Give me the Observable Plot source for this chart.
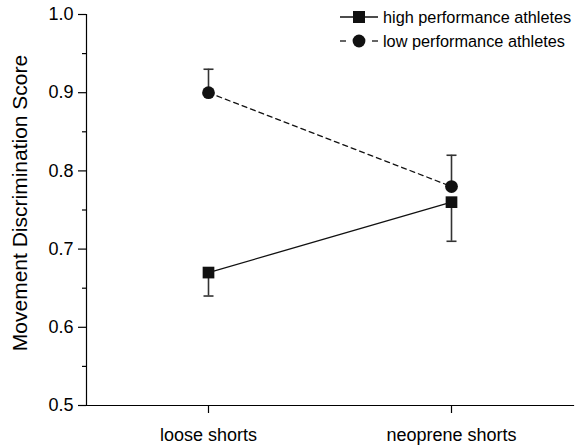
<!DOCTYPE html>
<html>
<head>
<meta charset="utf-8">
<script src="https://cdn.jsdelivr.net/npm/d3@7"></script>
<script src="https://cdn.jsdelivr.net/npm/@observablehq/plot@0.6"></script>
<style>
  html, body { margin: 0; padding: 0; background: #fff; }
  #chart { position: relative; width: 582px; height: 445px; }
  svg { font-family: "Liberation Sans", Arial, sans-serif; }
</style>
</head>
<body>
<div id="chart"></div>
<script>
const categories = ["loose shorts", "neoprene shorts"];
const seriesNames = ["high performance athletes", "low performance athletes"];
const highMean = [0.67, 0.76];
const highErrEnd = [0.64, 0.71];
const lowMean = [0.90, 0.78];
const lowErrEnd = [0.93, 0.82];
const yTicks = [0.5, 0.6, 0.7, 0.8, 0.9, 1.0];
const yMinorTicks = [0.55, 0.65, 0.75, 0.85, 0.95];
const yLabel = "Movement Discrimination Score";

const high = categories.map((c, i) => ({cat: c, mean: highMean[i], end: highErrEnd[i]}));
const low = categories.map((c, i) => ({cat: c, mean: lowMean[i], end: lowErrEnd[i]}));
const all = high.concat(low);

const capSymbol = {draw(ctx) { ctx.moveTo(-5, 0); ctx.lineTo(5, 0); }};

const plot = Plot.plot({
  width: 582,
  height: 445,
  marginLeft: 86,
  marginRight: 9,
  marginTop: 14,
  marginBottom: 40,
  style: {fontFamily: "'Liberation Sans', Arial, sans-serif", color: "#000", background: "#fff"},
  x: {type: "point", domain: categories, padding: 0.5},
  y: {domain: [0.5, 1.0]},
  marks: [
    Plot.frame({anchor: "left", stroke: "#000", strokeWidth: 1.2}),
    Plot.frame({anchor: "bottom", stroke: "#000", strokeWidth: 1.2}),
    Plot.axisY(yTicks, {tickSize: 8, tickPadding: 5, tickFormat: d3.format(".1f"), fontSize: 18, label: null, strokeWidth: 1.2}),
    Plot.axisY(yMinorTicks, {tickSize: 4, tickFormat: () => "", label: null, strokeWidth: 1.2}),
    Plot.axisX({tickSize: 8, tickPadding: 15, fontSize: 18, label: null, strokeWidth: 1.2}),
    Plot.text([yLabel], {frameAnchor: "left", textAnchor: "middle", lineAnchor: "middle", dx: -66, dy: -7, rotate: -90, fontSize: 21, fill: "#000"}),
    Plot.ruleX(all, {x: "cat", y1: "mean", y2: "end", stroke: "#333", strokeWidth: 1.6}),
    Plot.dot(all, {x: "cat", y: "end", symbol: capSymbol, r: 5, stroke: "#333", strokeWidth: 1.6, fill: "none"}),
    Plot.line(high, {x: "cat", y: "mean", stroke: "#111", strokeWidth: 1.3}),
    Plot.line(low, {x: "cat", y: "mean", stroke: "#111", strokeWidth: 1.3, strokeDasharray: "5,4"}),
    Plot.dot(high, {x: "cat", y: "mean", symbol: "square", r: 6.6, fill: "#111", stroke: "none"}),
    Plot.dot(low, {x: "cat", y: "mean", symbol: "circle", r: 6.4, fill: "#111", stroke: "none"})
  ]
});

document.getElementById("chart").appendChild(plot);

// legend inside the plot area (top right)
const svg = d3.select(plot);
const lg = svg.append("g").attr("transform", "translate(340,17)");
seriesNames.forEach((name, i) => {
  const row = lg.append("g").attr("transform", `translate(0,${i * 24})`);
  if (i === 0) {
    row.append("line").attr("x1", 0).attr("x2", 38).attr("y1", 0).attr("y2", 0)
      .attr("stroke", "#111").attr("stroke-width", 1.3);
    row.append("rect").attr("x", 13).attr("y", -6).attr("width", 12).attr("height", 12).attr("fill", "#111");
  } else {
    row.append("line").attr("x1", 0).attr("x2", 6).attr("y1", 0).attr("y2", 0)
      .attr("stroke", "#111").attr("stroke-width", 1.3);
    row.append("line").attr("x1", 32).attr("x2", 38).attr("y1", 0).attr("y2", 0)
      .attr("stroke", "#111").attr("stroke-width", 1.3);
    row.append("circle").attr("cx", 19).attr("cy", 0).attr("r", 6.4).attr("fill", "#111");
  }
  row.append("text").attr("x", 43).attr("y", 0).attr("dy", "0.35em")
    .attr("text-anchor", "start")
    .attr("font-size", 16.3).attr("fill", "#000")
    .attr("font-family", "'Liberation Sans', Arial, sans-serif").text(name);
});
</script>
</body>
</html>
